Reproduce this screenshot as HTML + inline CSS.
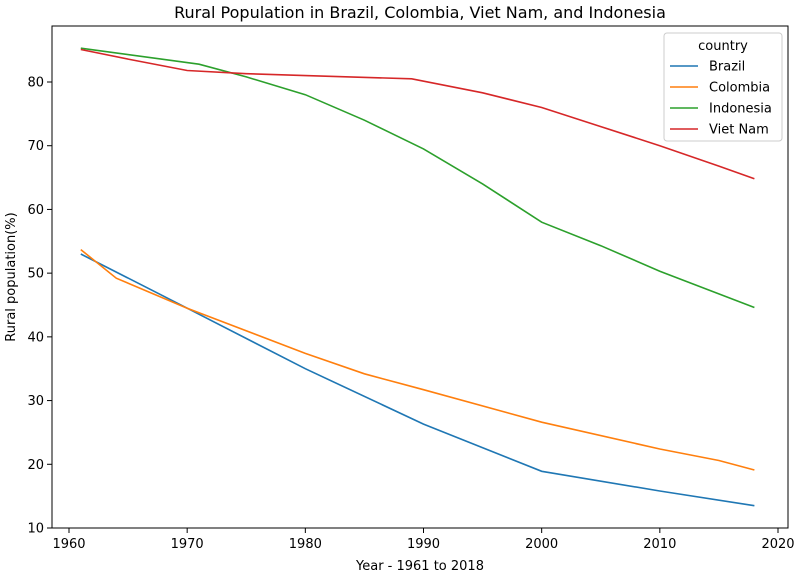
<!DOCTYPE html>
<html><head><meta charset="utf-8"><style>
body{margin:0;background:#fff;font-family:"Liberation Sans","DejaVu Sans",sans-serif;}
svg text{font-family:"DejaVu Sans","Liberation Sans",sans-serif;}
</style></head><body>
<svg id="chart" width="800" height="576" xmlns="http://www.w3.org/2000/svg">
<text x="420" y="18" font-size="16" text-anchor="middle">Rural Population in Brazil, Colombia, Viet Nam, and Indonesia</text>
<rect x="52" y="26" width="736" height="502" fill="none" stroke="#000" stroke-width="1"/>
<g id="axes"></g><g id="series"></g><g id="legend"></g>
<text x="420" y="570" font-size="13" text-anchor="middle">Year - 1961 to 2018</text>
<text x="15" y="277" font-size="13" text-anchor="middle" transform="rotate(-90 15 277)">Rural population(%)</text>
</svg>
<script>
const xTicks=[1960,1970,1980,1990,2000,2010,2020];
const yTicks=[10,20,30,40,50,60,70,80];
const seriesNames=["Brazil","Colombia","Indonesia","Viet Nam"];
const seriesColors=["#1f77b4","#ff7f0e","#2ca02c","#d62728"];
const brazilYears=[1961,1970,1980,1990,2000,2010,2018];
const brazilValues=[53,44.5,35,26.3,18.9,15.8,13.5];
const colombiaYears=[1961,1964,1970,1980,1985,1990,2000,2010,2015,2018];
const colombiaValues=[53.7,49.2,44.5,37.4,34.2,31.7,26.6,22.4,20.6,19.1];
const indonesiaYears=[1961,1971,1975,1980,1985,1990,1995,2000,2005,2010,2018];
const indonesiaValues=[85.3,82.8,80.8,78,74,69.5,64,58,54.3,50.3,44.6];
const vietnamYears=[1961,1965,1970,1975,1980,1989,1995,2000,2005,2010,2015,2018];
const vietnamValues=[85.1,83.6,81.8,81.3,81,80.5,78.3,76,73,70,66.8,64.8];
const xs=y=>69+(y-1960)*709/60;
const ys=v=>528-(v-10)*446/70;
const NS="http://www.w3.org/2000/svg";
function mk(t,a,p){const e=document.createElementNS(NS,t);for(const k in a)e.setAttribute(k,a[k]);p.appendChild(e);return e;}
const ax=document.getElementById("axes");
xTicks.forEach(t=>{
 const l=mk("line",{x1:xs(t),x2:xs(t),y1:528,y2:533,stroke:"#000"},ax);
 
 
 const tx=mk("text",{x:xs(t),y:548,"font-size":13,"text-anchor":"middle"},ax);tx.textContent=t;
 
 
});
yTicks.forEach(t=>{
 const l=mk("line",{x1:47,x2:52,y1:ys(t),y2:ys(t),stroke:"#000"},ax);
 
 
 const tx=mk("text",{x:44,y:ys(t)+4.5,"font-size":13,"text-anchor":"end"},ax);tx.textContent=t;
 
 
});
const data=[[brazilYears,brazilValues],[colombiaYears,colombiaValues],[indonesiaYears,indonesiaValues],[vietnamYears,vietnamValues]];
const sg=document.getElementById("series");
data.forEach((d,i)=>{
 const pts=d[0].map((y,j)=>xs(y).toFixed(1)+","+ys(d[1][j]).toFixed(1)).join(" ");
 const pl=mk("polyline",{points:pts,fill:"none",stroke:seriesColors[i],"stroke-width":1.6},sg);
 
 
});
const lg=document.getElementById("legend");


mk("rect",{x:664,y:33,width:118,height:108,rx:3,fill:"#fff",stroke:"#ccc"},lg);
const lt=mk("text",{x:723,y:50,"font-size":13,"text-anchor":"middle"},lg);lt.textContent="country";
seriesNames.forEach((n,i)=>{
 const y=66+i*21;
 const l=mk("line",{x1:670,x2:698,y1:y,y2:y,stroke:seriesColors[i],"stroke-width":1.6},lg);
 
 
 const t=mk("text",{x:709,y:y+4.5,"font-size":13},lg);t.textContent=n;
 
 
});
</script>
</body></html>
